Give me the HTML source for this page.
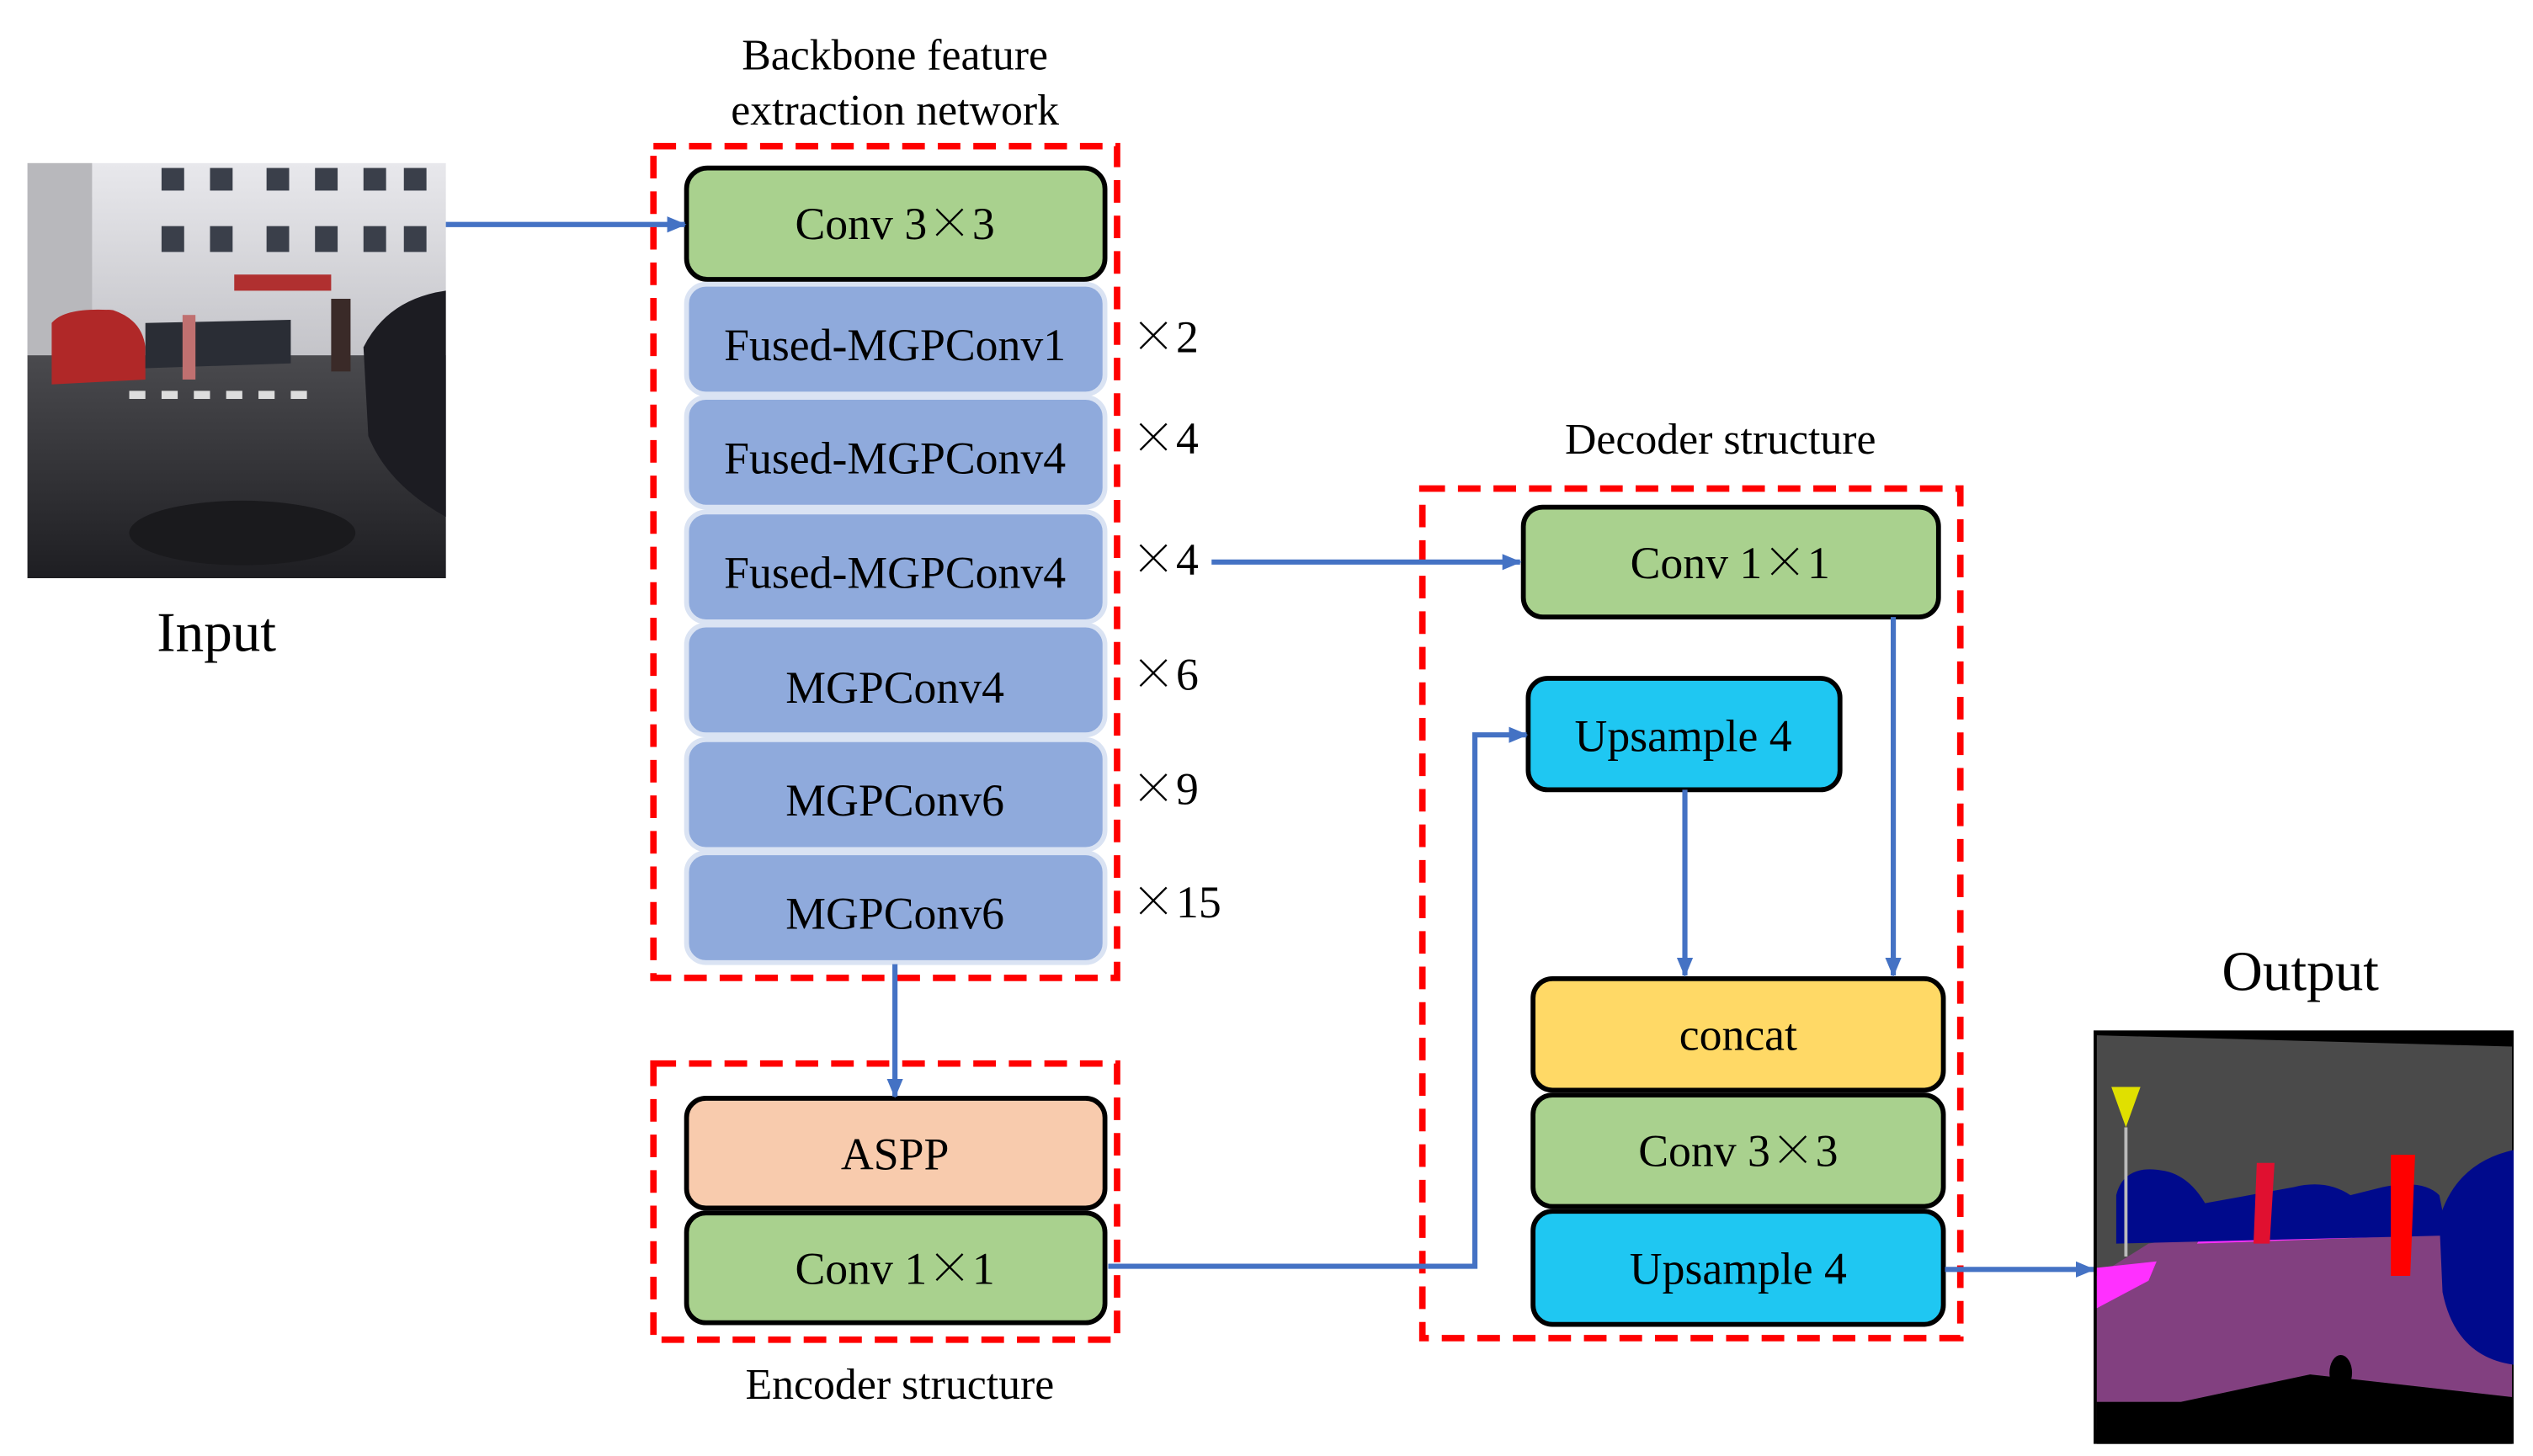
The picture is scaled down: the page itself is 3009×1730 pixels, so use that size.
<!DOCTYPE html>
<html><head><meta charset="utf-8"><style>
html,body{margin:0;padding:0;background:#fff;}
svg{display:block;}
text{font-family:"Liberation Serif",serif;fill:#000;}
.x{font-family:"Noto Serif CJK SC","Noto Sans CJK SC",serif;}
</style></head><body>
<svg width="3009" height="1730" viewBox="0 0 1568 901.5" preserveAspectRatio="none" xmlns="http://www.w3.org/2000/svg">
<defs>
<marker id="ah" markerWidth="12" markerHeight="12" refX="11" refY="6" orient="auto" markerUnits="userSpaceOnUse" viewBox="0 0 12 12">
<path d="M0,1 L12,6 L0,11 z" fill="#4472c4"/></marker>
<linearGradient id="road" x1="0" y1="0" x2="0" y2="1">
<stop offset="0" stop-color="#4a4a4e"/><stop offset="1" stop-color="#1e1e22"/></linearGradient>
<linearGradient id="bld" x1="0" y1="0" x2="0" y2="1">
<stop offset="0" stop-color="#e8e8ec"/><stop offset="1" stop-color="#9a9aa0"/></linearGradient>
</defs>
<rect width="1568" height="901.5" fill="#fff"/>

<!-- Input photo -->
<g>
<rect x="17" y="101" width="259" height="257" fill="url(#bld)"/>
<g fill="#3a3f4a">
<rect x="100" y="104" width="14" height="14"/><rect x="130" y="104" width="14" height="14"/><rect x="165" y="104" width="14" height="14"/><rect x="195" y="104" width="14" height="14"/><rect x="225" y="104" width="14" height="14"/><rect x="250" y="104" width="14" height="14"/>
<rect x="100" y="140" width="14" height="16"/><rect x="130" y="140" width="14" height="16"/><rect x="165" y="140" width="14" height="16"/><rect x="195" y="140" width="14" height="16"/><rect x="225" y="140" width="14" height="16"/><rect x="250" y="140" width="14" height="16"/>
</g>
<rect x="17" y="101" width="40" height="120" fill="#b8b8bc"/>
<rect x="145" y="170" width="60" height="10" fill="#b03030"/>
<rect x="17" y="220" width="259" height="138" fill="url(#road)"/>
<g fill="#ddd"><rect x="80" y="242" width="10" height="5"/><rect x="100" y="242" width="10" height="5"/><rect x="120" y="242" width="10" height="5"/><rect x="140" y="242" width="10" height="5"/><rect x="160" y="242" width="10" height="5"/><rect x="180" y="242" width="10" height="5"/></g>
<path d="M32,200 Q40,190 70,192 Q88,198 90,215 L90,235 L32,238 Z" fill="#b02828"/>
<path d="M225,215 Q240,185 276,180 L276,320 Q240,300 228,270 Z" fill="#1c1c22"/>
<path d="M90,200 L180,198 L180,225 L90,228 Z" fill="#2a2d35"/>
<rect x="205" y="185" width="12" height="45" fill="#3a2a28"/>
<rect x="113" y="195" width="8" height="40" fill="#c07070"/>
<ellipse cx="150" cy="330" rx="70" ry="20" fill="#1a1a1d"/>
</g>
<text x="134" y="403" font-size="35" text-anchor="middle">Input</text>

<!-- Backbone -->
<text x="554" y="43" font-size="27" text-anchor="middle">Backbone feature</text>
<text x="554" y="77" font-size="27" text-anchor="middle">extraction network</text>
<rect x="404.5" y="90.5" width="287" height="515" fill="none" stroke="#ff0000" stroke-width="4" stroke-dasharray="14,8"/>
<rect x="425" y="104" width="259" height="69" rx="13" fill="#a9d18e" stroke="#000" stroke-width="3"/>
<text x="554" y="148" font-size="28" text-anchor="middle">Conv 3<tspan class="x">×</tspan>3</text>
<g fill="#8faadc" stroke="#dae3f3" stroke-width="3">
<rect x="425" y="176" width="259" height="68" rx="12"/>
<rect x="425" y="246" width="259" height="68" rx="12"/>
<rect x="425" y="317" width="259" height="68" rx="12"/>
<rect x="425" y="387" width="259" height="68" rx="12"/>
<rect x="425" y="458" width="259" height="68" rx="12"/>
<rect x="425" y="528" width="259" height="68" rx="12"/>
</g>
<g font-size="28" text-anchor="middle">
<text x="554" y="223">Fused-MGPConv1</text>
<text x="554" y="293">Fused-MGPConv4</text>
<text x="554" y="364">Fused-MGPConv4</text>
<text x="554" y="435">MGPConv4</text>
<text x="554" y="505">MGPConv6</text>
<text x="554" y="575">MGPConv6</text>
</g>
<g font-size="28">
<text x="700" y="218"><tspan class="x">×</tspan>2</text>
<text x="700" y="281"><tspan class="x">×</tspan>4</text>
<text x="700" y="356"><tspan class="x">×</tspan>4</text>
<text x="700" y="427"><tspan class="x">×</tspan>6</text>
<text x="700" y="498"><tspan class="x">×</tspan>9</text>
<text x="700" y="568"><tspan class="x">×</tspan>15</text>
</g>

<!-- Encoder -->
<rect x="404.5" y="658.5" width="287" height="171" fill="none" stroke="#ff0000" stroke-width="4" stroke-dasharray="14,8"/>
<rect x="425" y="680" width="259" height="68" rx="12" fill="#f8cbad" stroke="#000" stroke-width="3"/>
<text x="554" y="724" font-size="28" text-anchor="middle">ASPP</text>
<rect x="425" y="751" width="259" height="68" rx="12" fill="#a9d18e" stroke="#000" stroke-width="3"/>
<text x="554" y="795" font-size="28" text-anchor="middle">Conv 1<tspan class="x">×</tspan>1</text>
<text x="557" y="866" font-size="27" text-anchor="middle">Encoder structure</text>

<!-- Decoder -->
<text x="1065" y="281" font-size="27" text-anchor="middle">Decoder structure</text>
<rect x="880.5" y="302.5" width="333" height="526" fill="none" stroke="#ff0000" stroke-width="4" stroke-dasharray="14,8"/>
<rect x="943" y="314" width="257" height="68" rx="12" fill="#a9d18e" stroke="#000" stroke-width="3"/>
<text x="1071" y="358" font-size="28" text-anchor="middle">Conv 1<tspan class="x">×</tspan>1</text>
<rect x="946" y="420" width="193" height="69" rx="12" fill="#1fc7f2" stroke="#000" stroke-width="3"/>
<text x="1042" y="465" font-size="28" text-anchor="middle">Upsample 4</text>
<rect x="949" y="606" width="254" height="69" rx="12" fill="#ffd966" stroke="#000" stroke-width="3"/>
<text x="1076" y="650" font-size="28" text-anchor="middle">concat</text>
<rect x="949" y="678" width="254" height="69" rx="12" fill="#a9d18e" stroke="#000" stroke-width="3"/>
<text x="1076" y="722" font-size="28" text-anchor="middle">Conv 3<tspan class="x">×</tspan>3</text>
<rect x="949" y="750" width="254" height="70" rx="12" fill="#1fc7f2" stroke="#000" stroke-width="3"/>
<text x="1076" y="795" font-size="28" text-anchor="middle">Upsample 4</text>

<!-- Arrows -->
<g stroke="#4472c4" stroke-width="3.2" fill="none">
<line x1="276" y1="139" x2="424" y2="139" marker-end="url(#ah)"/>
<line x1="750" y1="348" x2="941" y2="348" marker-end="url(#ah)"/>
<line x1="554" y1="597" x2="554" y2="679" marker-end="url(#ah)"/>
<polyline points="686,784 913,784 913,455 945,455" marker-end="url(#ah)"/>
<line x1="1172" y1="382" x2="1172" y2="604" marker-end="url(#ah)"/>
<line x1="1043" y1="489" x2="1043" y2="604" marker-end="url(#ah)"/>
<line x1="1204" y1="786" x2="1296" y2="786" marker-end="url(#ah)"/>
</g>

<!-- Output -->
<text x="1424" y="613" font-size="35" text-anchor="middle">Output</text>
<g>
<rect x="1296" y="638" width="260" height="256" fill="#000"/>
<path d="M1298,641 L1555,648 L1555,885 L1298,885 Z" fill="#4a4a4a"/>
<path d="M1298,790 L1330,770 L1390,760 L1480,757 L1540,760 L1555,790 L1555,865 L1430,851 L1350,868 L1298,868 Z" fill="#824080"/>
<path d="M1298,785 L1335,781 L1330,793 L1298,810 Z" fill="#ff30ff"/>
<path d="M1365,762 L1480,755 L1500,765 L1360,770 Z" fill="#ff30ff"/>
<path d="M1310,740 Q1315,720 1340,725 Q1355,728 1365,745 L1420,735 Q1440,730 1455,740 L1475,735 Q1500,730 1510,740 L1515,765 L1310,770 Z" fill="#000a8c"/>
<path d="M1510,755 Q1520,720 1556,712 L1556,845 Q1520,840 1512,800 Z" fill="#000a8c"/>
<path d="M1397,720 L1408,720 L1405,770 L1395,770 Z" fill="#e01030"/>
<path d="M1480,715 L1495,715 L1492,790 L1480,790 Z" fill="#ff0000"/>
<path d="M1307,673 L1325,673 L1316,698 Z" fill="#e0e000"/>
<rect x="1315" y="698" width="2" height="80" fill="#bbb"/>
<ellipse cx="1449" cy="850" rx="7" ry="11" fill="#000"/>
<path d="M1298,868 L1350,868 L1430,851 L1555,865 L1555,894 L1298,894 Z" fill="#000"/>
</g>
</svg>
</body></html>
